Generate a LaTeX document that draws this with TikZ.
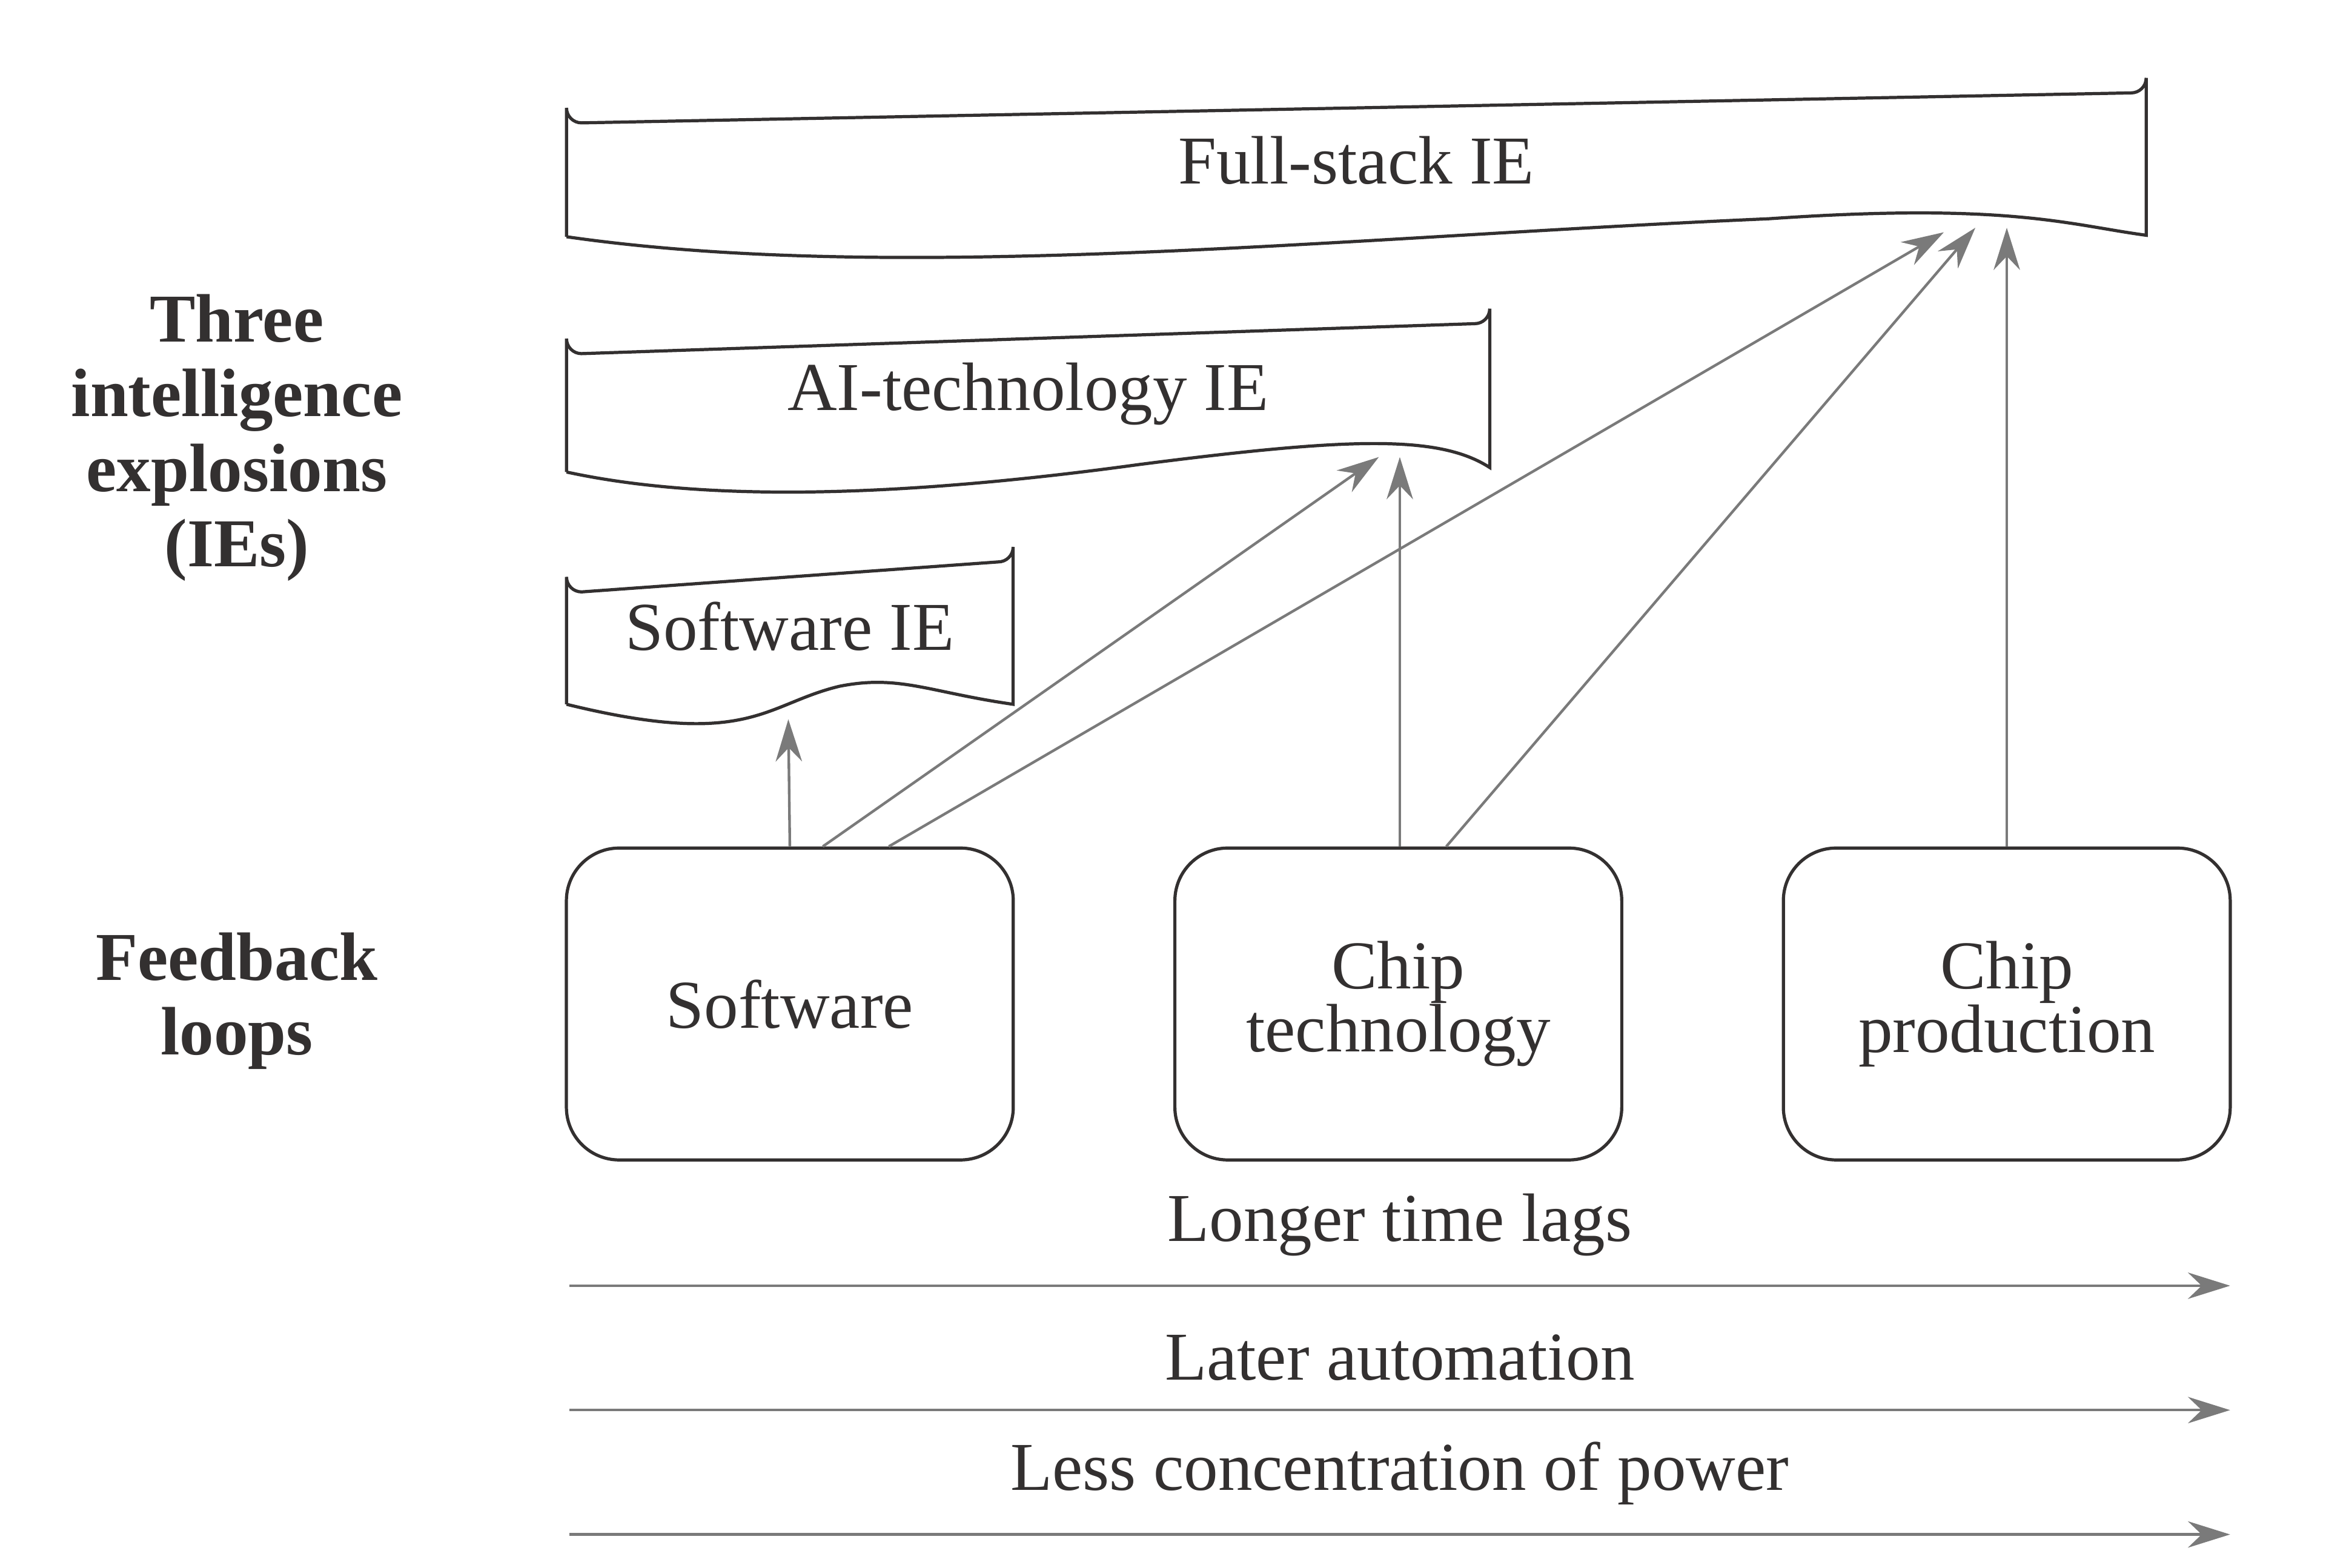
\documentclass[tikz,border=0pt]{standalone}
\usepackage{fontspec}
\setmainfont{Liberation Serif}
\usetikzlibrary{arrows.meta}
\usetikzlibrary{positioning}
\definecolor{ink}{HTML}{333030}
\definecolor{arr}{HTML}{7A7A7A}
\tikzset{>={Stealth[length=8pt,width=5pt]}}
\tikzstyle{loop} = [draw=ink, rounded corners=10pt, minimum width=2.98cm, minimum height=2.08cm, align=center, font=\fontsize{13}{14}\selectfont, text=ink, line width=0.6pt]
\tikzstyle{ie} = [draw=ink, line width=0.6pt]
\tikzstyle{lab} = [text=ink, font=\fontsize{13}{14}\selectfont]
\tikzstyle{side} = [text=ink, align=center, font=\fontsize{13}{14.2}\selectfont\bfseries]
\tikzstyle{feed} = [->, draw=arr, line width=0.5pt]
\begin{document}
\begin{tikzpicture}[x=0.01cm, y=-0.01cm]
\useasboundingbox (0,0) rectangle (1552,1046);
% the three explosions
\draw [ie] (378,158) -- (378,72) arc[start angle=180, end angle=90, radius=10] -- (1422,62) arc[start angle=90, end angle=0, radius=10] -- (1432,157)
  .. controls (1380,150) and (1340,135) .. (1180,146) .. controls (900,158) and (600,190) .. (378,158);
\draw [ie] (378,315) -- (378,226) arc[start angle=180, end angle=90, radius=10] -- (984,216) arc[start angle=90, end angle=0, radius=10] -- (994,312)
  .. controls (960,290) and (900,292) .. (760,310) .. controls (600,332) and (470,335) .. (378,315);
\draw [ie] (378,470) -- (378,385) arc[start angle=180, end angle=90, radius=10] -- (666,375) arc[start angle=90, end angle=0, radius=10] -- (676,470)
  .. controls (620,462) and (600,450) .. (560,458) .. controls (510,470) and (500,500) .. (378,470);
\node [lab] (FS) at (905,107) {Full-stack IE};
\node [lab] (AI) at (686,263) {AI-technology IE};
\node [lab] (SI) at (527,418) {Software IE};
\coordinate (FSa) at (1297,155);
\coordinate (FSb) at (1318,152);
\coordinate (FSc) at (1339,152);
\coordinate (AIa) at (920,305);
\coordinate (AIb) at (934,305);
\coordinate (SIa) at (526,480);
% feedback loops
\node [loop] (SW) at (527,670) {Software};
\node [loop] (CT) at (933,670) {Chip\\[-2pt]technology};
\node [loop] (CP) at (1339,670) {Chip\\[-2pt]production};
\draw [feed] (SW.north) to (SIa);
\draw [feed] ([xshift=0.22cm]SW.north) to (AIa);
\draw [feed] ([xshift=0.66cm]SW.north) to (FSa);
\draw [feed] ([xshift=0.01cm]CT.north) to (AIb);
\draw [feed] ([xshift=0.32cm]CT.north) to (FSb);
\draw [feed] (CP.north) to (FSc);
% side labels
\node [side] (T) at (158,292) {Three\\intelligence\\explosions\\(IEs)};
\node [side] (F) at (158,668) {Feedback\\loops};
% trends
\foreach \y/\t in {858/Longer time lags, 941/Later automation, 1024/Less concentration of power} {
  \coordinate (s\y) at (380,\y);
  \coordinate (e\y) at (1488,\y);
  \draw [feed] (s\y) to node [lab, above=2pt] {\t} (e\y);
}
\end{tikzpicture}
\end{document}
